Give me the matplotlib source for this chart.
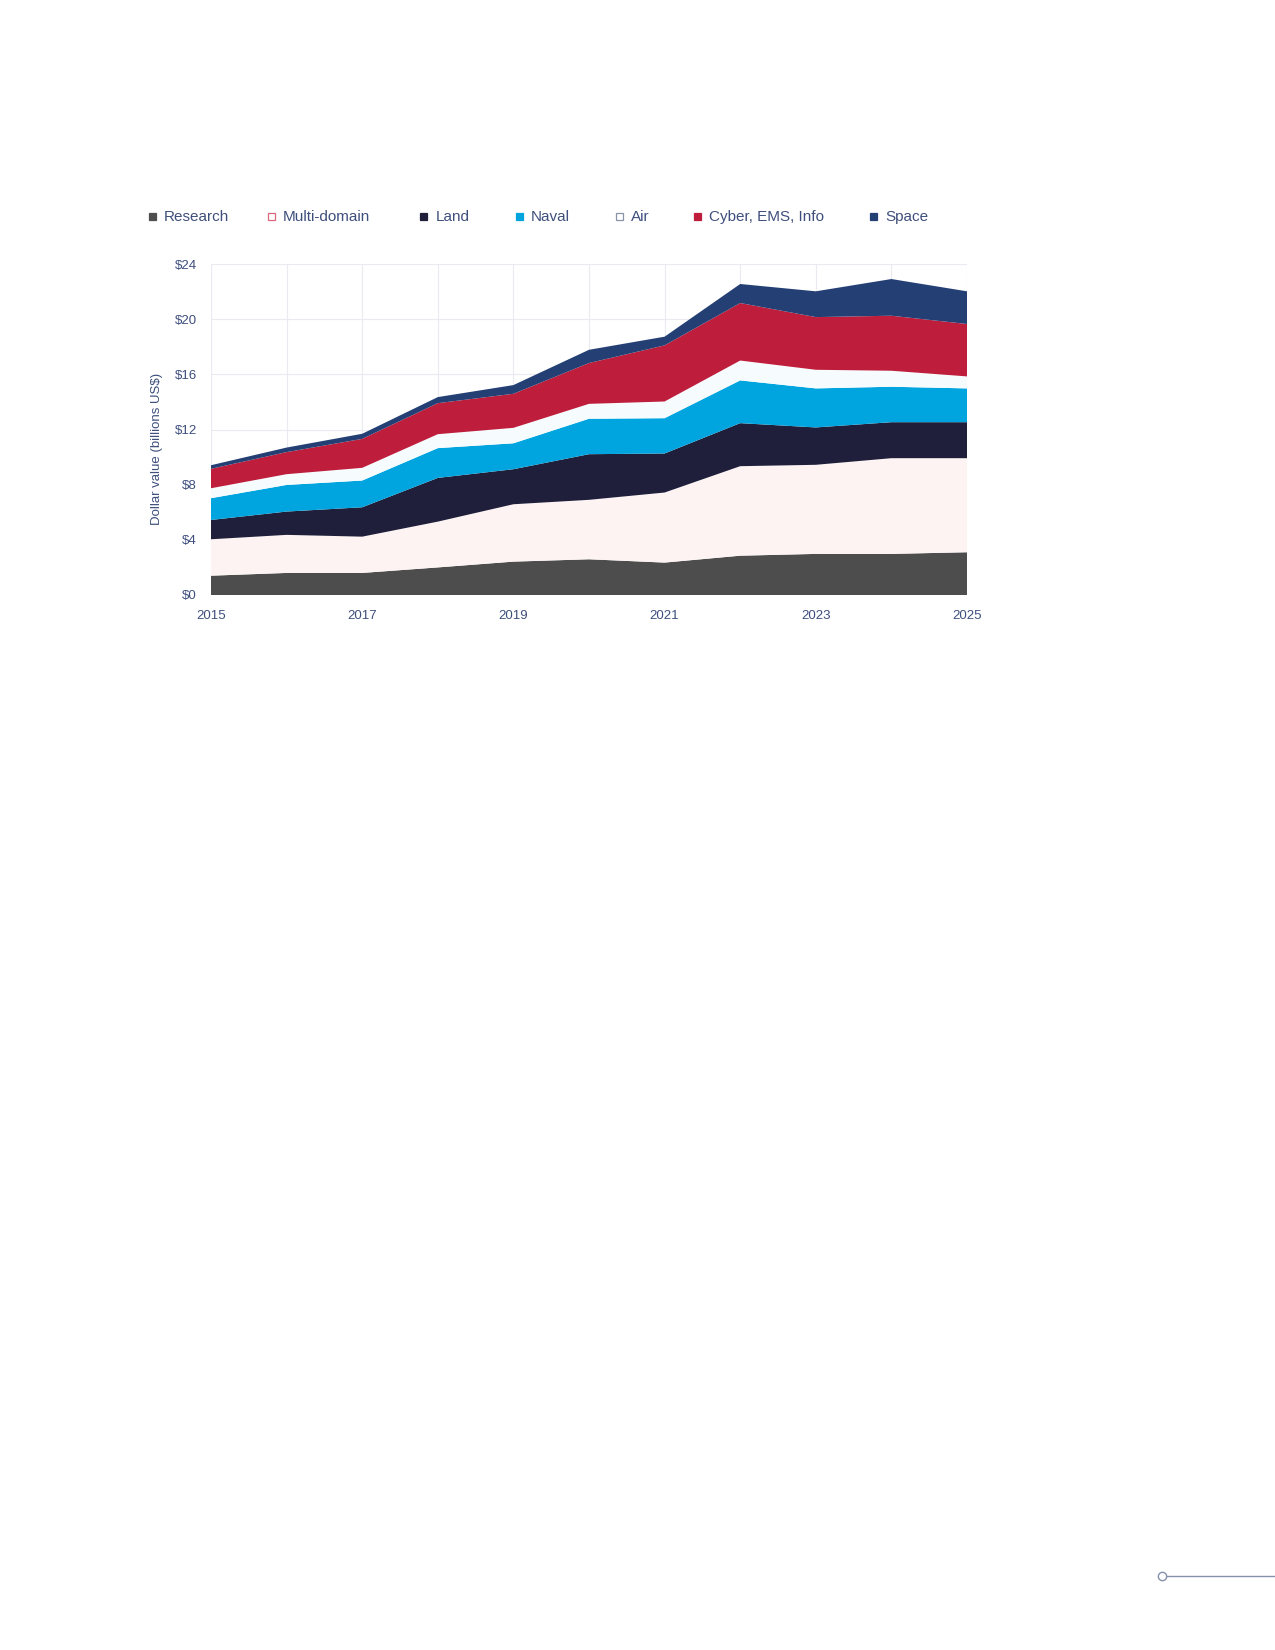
"""Stacked area chart: dollar value by domain, 2015-2025"""

import numpy as np
import matplotlib.pyplot as plt
from matplotlib.patches import Rectangle
from matplotlib.lines import Line2D

years = [2015, 2016, 2017, 2018, 2019, 2020, 2021, 2022, 2023, 2024, 2025]

# cumulative tops, turned into layer values below
research = [1.40, 1.60, 1.60, 2.00, 2.42, 2.59, 2.35, 2.85, 2.98, 2.98, 3.10]
multi_top = [4.04, 4.36, 4.23, 5.32, 6.58, 6.90, 7.43, 9.34, 9.44, 9.92, 9.92]
land_top = [5.44, 6.05, 6.36, 8.49, 9.12, 10.21, 10.26, 12.46, 12.15, 12.53, 12.53]
naval_top = [7.02, 7.98, 8.30, 10.65, 11.00, 12.78, 12.82, 15.56, 14.98, 15.10, 14.98]
air_top = [7.74, 8.76, 9.22, 11.66, 12.12, 13.86, 14.03, 17.00, 16.33, 16.26, 15.85]
cyber_top = [9.15, 10.36, 11.32, 13.91, 14.59, 16.82, 18.10, 21.17, 20.15, 20.25, 19.65]
space_top = [9.41, 10.69, 11.69, 14.35, 15.22, 17.78, 18.73, 22.55, 22.02, 22.91, 22.02]

labels = ['Research', 'Multi-domain', 'Land', 'Naval', 'Air', 'Cyber, EMS, Info', 'Space']
colors = ['#4d4d4d', '#fdf3f2', '#1f1f3b', '#00a4de', '#f6fbfe', '#be1e3c', '#243f74']
edge = [None, '#d9697a', None, None, '#8a93a8', None, None]

y_ticks = [0, 4, 8, 12, 16, 20, 24]
x_ticks = [2015, 2017, 2019, 2021, 2023, 2025]

TXT = '#3e4f7c'

tops = np.array([research, multi_top, land_top, naval_top, air_top, cyber_top, space_top])
layers = np.diff(np.vstack([np.zeros(len(years)), tops]), axis=0)

plt.rcParams['font.family'] = ['Liberation Sans', 'DejaVu Sans']

fig = plt.figure(figsize=(12.75, 16.5), dpi=100)
ax = fig.add_axes([211/1275, 1 - 595/1650, (967-211)/1275, (595-264)/1650])

ax.stackplot(years, layers, colors=colors, linewidth=0)

ax.set_xlim(2015, 2025)
ax.set_ylim(0, 24)
ax.set_xticks(x_ticks)
ax.set_yticks(y_ticks)
ax.set_yticklabels([f'${v}' for v in y_ticks])
ax.set_xticks(years, minor=True)
ax.grid(True, which='both', axis='x', color='#e9ebf1', linewidth=0.8)
ax.grid(True, axis='y', color='#e9ebf1', linewidth=0.8)
ax.set_axisbelow(True)
for s in ax.spines.values():
    s.set_visible(False)
ax.tick_params(which='both', length=0, colors=TXT, labelsize=9.5)
ax.tick_params(axis='x', pad=11)
ax.tick_params(axis='y', pad=10)
ax.set_ylabel('Dollar value (billions US$)', color=TXT, fontsize=9.5)
ax.yaxis.set_label_coords(-0.063, 0.44)

# legend along the top, hand placed like the original
leg_x = [152, 271, 424, 519, 619, 697, 873]
leg_y = 1 - 217/1650
for x, lab, c, e in zip(leg_x, labels, colors, edge):
    fx = x / 1275
    r = Rectangle((fx - 3.5/1275, leg_y - 3.5/1650), 7/1275, 7/1650, transform=fig.transFigure,
                  facecolor=c if e is None else 'white', edgecolor=e if e else c, linewidth=0.9)
    fig.patches.append(r)
    fig.text(fx + 12/1275, leg_y, lab, color=TXT, fontsize=11, va='center', ha='left')

# small page ornament bottom right
oy = 1 - 1576/1650
fig.lines.append(Line2D([1166/1275, 1.0], [oy, oy], transform=fig.transFigure,
                        color='#8591ad', linewidth=1))
fig.lines.append(Line2D([1162/1275], [oy], transform=fig.transFigure, marker='o',
                        markersize=6, markerfacecolor='white', markeredgecolor='#8591ad',
                        markeredgewidth=1, linestyle='none'))

fig.savefig('out.png', dpi=100)
